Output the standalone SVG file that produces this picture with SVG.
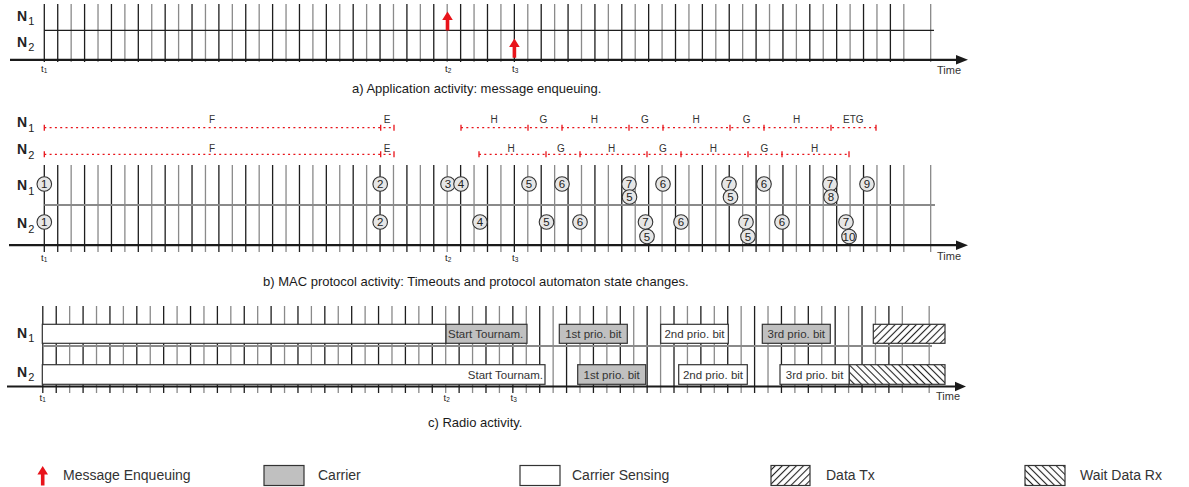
<svg xmlns="http://www.w3.org/2000/svg" width="1189" height="487" viewBox="0 0 1189 487">
<style>
text{font-family:"Liberation Sans",Arial,sans-serif;fill:#222}
.nl{font-weight:bold;font-size:14px}
.ns{font-weight:normal;font-size:11px}
.t{font-size:9.5px}
.ts{font-size:6.5px}
.time{font-size:11px;fill:#333}
.cap{font-size:13px;fill:#1a1a1a}
.st{font-size:10px;fill:#333;text-anchor:middle}
.cn{font-size:11.5px;text-anchor:middle;fill:#222}
.bx{font-size:11.5px;fill:#333}
.lg{font-size:14px;fill:#333}
.gk{fill:none;stroke:#1e1e1e;stroke-width:1.3}
.gg{fill:none;stroke:#8a8a8a;stroke-width:1.3}
.ax{fill:none;stroke:#1a1a1a;stroke-width:2.2}
.dv{fill:none;stroke:#8a8a8a;stroke-width:2}
.rd{fill:none;stroke:#e8141b;stroke-width:1.2;stroke-dasharray:2 3.3}
.rt{fill:none;stroke:#e8141b;stroke-width:1.3}
.cc{fill:#e6e6e6;stroke:#333;stroke-width:1.1}
.bw{fill:#fff;stroke:#333;stroke-width:1.2}
.bg{fill:#c0c0c0;stroke:#333;stroke-width:1.2}
.arr{fill:#e8141b}
</style>
<defs>
<pattern id="hf" width="5" height="5" patternUnits="userSpaceOnUse" patternTransform="rotate(45)"><line x1="2.5" y1="0" x2="2.5" y2="5" stroke="#222" stroke-width="1.1"/></pattern>
<pattern id="hb" width="5" height="5" patternUnits="userSpaceOnUse" patternTransform="rotate(-45)"><line x1="2.5" y1="0" x2="2.5" y2="5" stroke="#222" stroke-width="1.1"/></pattern>
</defs>

<!-- Panel a -->
<g id="panel-a">
<path class="gg" d="M71.16 4v58m26.86-58v58m26.86-58v58m26.86-58v58m26.86-58v58m26.86-58v58m26.86-58v58m26.86-58v58m26.86-58v58m26.86-58v58m26.86-58v58m26.86-58v58m26.86-58v58m26.86-58v58m26.86-58v58m26.86-58v58m26.86-58v58m26.86-58v58m26.86-58v58m26.86-58v58m26.86-58v58m26.86-58v58m26.86-58v58m26.86-58v58m26.86-58v58m26.86-58v58m26.86-58v58m26.86-58v58m26.86-58v58m26.86-58v58m26.86-58v58m26.86-58v58m26.86-58v58"/>
<path class="gk" d="M44.3 4v58M57.73 4v58m26.86-58v58m26.86-58v58m26.86-58v58m26.86-58v58m26.86-58v58m26.86-58v58m26.86-58v58m26.86-58v58m26.86-58v58m26.86-58v58m26.86-58v58m26.86-58v58m26.86-58v58m26.86-58v58m26.86-58v58m26.86-58v58m26.86-58v58m26.86-58v58m26.86-58v58m26.86-58v58m26.86-58v58m26.86-58v58m26.86-58v58m26.86-58v58m26.86-58v58m26.86-58v58m26.86-58v58m26.86-58v58m26.86-58v58m26.86-58v58m26.86-58v58"/>
<line x1="44.3" y1="30.3" x2="934" y2="30.3" stroke="#1e1e1e" stroke-width="1.3"/>
<line class="ax" x1="10" y1="59.8" x2="957" y2="59.8"/>
<polygon points="956,55 968,59.8 956,64.6" fill="#1a1a1a"/>
<text class="nl" x="17" y="21">N<tspan class="ns" dx="1" dy="4">1</tspan></text>
<text class="nl" x="17" y="47">N<tspan class="ns" dx="1" dy="4">2</tspan></text>
<text class="t" x="41" y="72">t<tspan class="ts" dy="0.5">1</tspan></text>
<text class="t" x="445" y="72">t<tspan class="ts" dy="0.5">2</tspan></text>
<text class="t" x="512" y="72">t<tspan class="ts" dy="0.5">3</tspan></text>
<text class="time" x="937" y="74">Time</text>
<polygon class="arr" points="447.5,11.5 452.8,20 449.3,20 449.3,30.5 445.7,30.5 445.7,20 442.2,20"/>
<polygon class="arr" points="514.4,38.5 519.7,47 516.2,47 516.2,57.8 512.6,57.8 512.6,47 509.1,47"/>
<text class="cap" x="352" y="92.5">a) Application activity: message enqueuing.</text>
</g>

<!-- Panel b -->
<g id="panel-b">
<path class="gg" d="M71.16 165v87m26.86-87v87m26.86-87v87m26.86-87v87m26.86-87v87m26.86-87v87m26.86-87v87m26.86-87v87m26.86-87v87m26.86-87v87m26.86-87v87m26.86-87v87m26.86-87v87m26.86-87v87m26.86-87v87m26.86-87v87m26.86-87v87m26.86-87v87m26.86-87v87m26.86-87v87m26.86-87v87m26.86-87v87m26.86-87v87m26.86-87v87m26.86-87v87m26.86-87v87m26.86-87v87m26.86-87v87m26.86-87v87m26.86-87v87m26.86-87v87m26.86-87v87m26.86-87v87"/>
<path class="gk" d="M44.3 165v87M57.73 165v87m26.86-87v87m26.86-87v87m26.86-87v87m26.86-87v87m26.86-87v87m26.86-87v87m26.86-87v87m26.86-87v87m26.86-87v87m26.86-87v87m26.86-87v87m26.86-87v87m26.86-87v87m26.86-87v87m26.86-87v87m26.86-87v87m26.86-87v87m26.86-87v87m26.86-87v87m26.86-87v87m26.86-87v87m26.86-87v87m26.86-87v87m26.86-87v87m26.86-87v87m26.86-87v87m26.86-87v87m26.86-87v87m26.86-87v87m26.86-87v87m26.86-87v87"/>
<line class="dv" x1="44.3" y1="205" x2="935" y2="205"/>
<line class="ax" x1="9" y1="245.2" x2="957" y2="245.2"/>
<polygon points="956,240.4 968,245.2 956,250" fill="#1a1a1a"/>
<text class="nl" x="17" y="127">N<tspan class="ns" dx="1" dy="5">1</tspan></text>
<text class="nl" x="17" y="154">N<tspan class="ns" dx="1" dy="5">2</tspan></text>
<text class="nl" x="17" y="189.5">N<tspan class="ns" dx="1" dy="5">1</tspan></text>
<text class="nl" x="17" y="228">N<tspan class="ns" dx="1" dy="5">2</tspan></text>
<text class="t" x="41" y="261">t<tspan class="ts" dy="0.5">1</tspan></text>
<text class="t" x="445" y="261">t<tspan class="ts" dy="0.5">2</tspan></text>
<text class="t" x="512" y="261">t<tspan class="ts" dy="0.5">3</tspan></text>
<text class="time" x="937" y="260">Time</text>
<text class="cap" x="263" y="285.5">b) MAC protocol activity: Timeouts and protocol automaton state changes.</text>
</g>

<!-- Panel b: state timelines -->
<g id="states">
<path class="rd" d="M44.3 127.7H394M461 127.7H876M44.3 154.3H394M479 154.3H849"/>
<path class="rt" d="M44.3 124.7v6M380.7 124.7v6M394 124.7v6M461 124.7v6M528 124.7v6M562 124.7v6M629 124.7v6M663 124.7v6M730 124.7v6M764 124.7v6M831 124.7v6M876 124.7v6"/>
<path class="rt" d="M44.3 151.3v6M380.7 151.3v6M394 151.3v6M479 151.3v6M546 151.3v6M580 151.3v6M647 151.3v6M681 151.3v6M748 151.3v6M782 151.3v6M849 151.3v6"/>
<text class="st" x="212" y="123.3">F</text>
<text class="st" x="387" y="123.3">E</text>
<text class="st" x="494" y="123.3">H</text>
<text class="st" x="543.3" y="123.3">G</text>
<text class="st" x="594.3" y="123.3">H</text>
<text class="st" x="645" y="123.3">G</text>
<text class="st" x="696" y="123.3">H</text>
<text class="st" x="746.7" y="123.3">G</text>
<text class="st" x="796.7" y="123.3">H</text>
<text class="st" x="853.3" y="123.3">ETG</text>
<text class="st" x="212" y="151.5">F</text>
<text class="st" x="387" y="151.5">E</text>
<text class="st" x="511" y="151.5">H</text>
<text class="st" x="561" y="151.5">G</text>
<text class="st" x="611.7" y="151.5">H</text>
<text class="st" x="663" y="151.5">G</text>
<text class="st" x="713.3" y="151.5">H</text>
<text class="st" x="764.3" y="151.5">G</text>
<text class="st" x="814.7" y="151.5">H</text>
</g>

<!-- Panel b: automaton state circles -->
<g id="circles-n1">
<circle class="cc" cx="44.3" cy="184" r="7.3"/><text class="cn" x="44.3" y="188.2">1</text>
<circle class="cc" cx="380.2" cy="184" r="7.3"/><text class="cn" x="380.2" y="188.2">2</text>
<circle class="cc" cx="448" cy="184" r="7.3"/><text class="cn" x="448" y="188.2">3</text>
<circle class="cc" cx="461" cy="184" r="7.3"/><text class="cn" x="461" y="188.2">4</text>
<circle class="cc" cx="529" cy="184" r="7.3"/><text class="cn" x="529" y="188.2">5</text>
<circle class="cc" cx="562" cy="184" r="7.3"/><text class="cn" x="562" y="188.2">6</text>
<circle class="cc" cx="629" cy="184" r="7.3"/><text class="cn" x="629" y="188.2">7</text>
<circle class="cc" cx="629.5" cy="197" r="7.3"/><text class="cn" x="629.5" y="201.2">5</text>
<circle class="cc" cx="663" cy="184" r="7.3"/><text class="cn" x="663" y="188.2">6</text>
<circle class="cc" cx="729" cy="184" r="7.3"/><text class="cn" x="729" y="188.2">7</text>
<circle class="cc" cx="730.5" cy="197" r="7.3"/><text class="cn" x="730.5" y="201.2">5</text>
<circle class="cc" cx="764" cy="184" r="7.3"/><text class="cn" x="764" y="188.2">6</text>
<circle class="cc" cx="830" cy="184" r="7.3"/><text class="cn" x="830" y="188.2">7</text>
<circle class="cc" cx="831" cy="197" r="7.3"/><text class="cn" x="831" y="201.2">8</text>
<circle class="cc" cx="867" cy="184" r="7.3"/><text class="cn" x="867" y="188.2">9</text>
</g>
<g id="circles-n2">
<circle class="cc" cx="44.3" cy="222" r="7.3"/><text class="cn" x="44.3" y="226.2">1</text>
<circle class="cc" cx="380.2" cy="222" r="7.3"/><text class="cn" x="380.2" y="226.2">2</text>
<circle class="cc" cx="480" cy="222" r="7.3"/><text class="cn" x="480" y="226.2">4</text>
<circle class="cc" cx="546.5" cy="222" r="7.3"/><text class="cn" x="546.5" y="226.2">5</text>
<circle class="cc" cx="580" cy="222" r="7.3"/><text class="cn" x="580" y="226.2">6</text>
<circle class="cc" cx="645.5" cy="222" r="7.3"/><text class="cn" x="645.5" y="226.2">7</text>
<circle class="cc" cx="647" cy="236.5" r="7.3"/><text class="cn" x="647" y="240.7">5</text>
<circle class="cc" cx="681" cy="222" r="7.3"/><text class="cn" x="681" y="226.2">6</text>
<circle class="cc" cx="746" cy="222" r="7.3"/><text class="cn" x="746" y="226.2">7</text>
<circle class="cc" cx="748" cy="236.5" r="7.3"/><text class="cn" x="748" y="240.7">5</text>
<circle class="cc" cx="782" cy="222" r="7.3"/><text class="cn" x="782" y="226.2">6</text>
<circle class="cc" cx="846" cy="222" r="7.3"/><text class="cn" x="846" y="226.2">7</text>
<circle class="cc" cx="849" cy="236.5" r="7.3"/><text class="cn" x="849" y="240.7" font-size="10.5">10</text>
</g>

<!-- Panel c -->
<g id="panel-c">
<path class="gg" d="M69.66 306v87m26.86-87v87m26.86-87v87m26.86-87v87m26.86-87v87m26.86-87v87m26.86-87v87m26.86-87v87m26.86-87v87m26.86-87v87m26.86-87v87m26.86-87v87m26.86-87v87m26.86-87v87m26.86-87v87m26.86-87v87m26.86-87v87m26.86-87v87m26.86-87v87m26.86-87v87m26.86-87v87m26.86-87v87m26.86-87v87m26.86-87v87m26.86-87v87m26.86-87v87m26.86-87v87m26.86-87v87m26.86-87v87m26.86-87v87m26.86-87v87m26.86-87v87m26.86-87v87"/>
<path class="gk" d="M42.8 306v87M56.23 306v87m26.86-87v87m26.86-87v87m26.86-87v87m26.86-87v87m26.86-87v87m26.86-87v87m26.86-87v87m26.86-87v87m26.86-87v87m26.86-87v87m26.86-87v87m26.86-87v87m26.86-87v87m26.86-87v87m26.86-87v87m26.86-87v87m26.86-87v87m26.86-87v87m26.86-87v87m26.86-87v87m26.86-87v87m26.86-87v87m26.86-87v87m26.86-87v87m26.86-87v87m26.86-87v87m26.86-87v87m26.86-87v87m26.86-87v87m26.86-87v87m26.86-87v87"/>
<line class="dv" x1="42.8" y1="346" x2="932" y2="346"/>
<line class="ax" x1="7" y1="386.5" x2="956" y2="386.5"/>
<polygon points="955,381.7 966,386.5 955,391.3" fill="#1a1a1a"/>
<text class="nl" x="17" y="338">N<tspan class="ns" dx="1" dy="4">1</tspan></text>
<text class="nl" x="17" y="377">N<tspan class="ns" dx="1" dy="4">2</tspan></text>
<text class="t" x="39.5" y="401">t<tspan class="ts" dy="0.5">1</tspan></text>
<text class="t" x="443.5" y="401">t<tspan class="ts" dy="0.5">2</tspan></text>
<text class="t" x="510.5" y="401">t<tspan class="ts" dy="0.5">3</tspan></text>
<text class="time" x="936" y="400">Time</text>
<text class="cap" x="428" y="427">c) Radio activity.</text>
</g>

<!-- Panel c: radio activity boxes -->
<g id="radio-n1">
<rect class="bw" x="42.3" y="324.3" width="403.7" height="19"/>
<rect class="bg" x="446" y="324.3" width="81" height="19"/><text class="bx" x="448" y="338.2">Start Tournam.</text>
<rect class="bg" x="559.3" y="324.3" width="68" height="19"/><text class="bx" x="593.3" y="338.2" text-anchor="middle">1st prio. bit</text>
<rect class="bw" x="660.7" y="324.3" width="67.6" height="19"/><text class="bx" x="694.5" y="338.2" text-anchor="middle">2nd prio. bit</text>
<rect class="bg" x="762.3" y="324.3" width="68" height="19"/><text class="bx" x="796.3" y="338.2" text-anchor="middle">3rd prio. bit</text>
<rect x="873.3" y="324.3" width="71.7" height="19" fill="#fff"/><rect x="873.3" y="324.3" width="71.7" height="19" fill="url(#hf)" stroke="#333" stroke-width="1.2"/>
</g>
<g id="radio-n2">
<rect class="bw" x="42.3" y="364.7" width="502.7" height="19.6"/><text class="bx" x="543" y="379" text-anchor="end">Start Tournam.</text>
<rect class="bg" x="577.7" y="364.7" width="68" height="19.6"/><text class="bx" x="611.7" y="379" text-anchor="middle">1st prio. bit</text>
<rect class="bw" x="678.7" y="364.7" width="68.6" height="19.6"/><text class="bx" x="713" y="379" text-anchor="middle">2nd prio. bit</text>
<rect class="bw" x="780" y="364.7" width="69.3" height="19.6"/><text class="bx" x="814.6" y="379" text-anchor="middle">3rd prio. bit</text>
<rect x="849.3" y="364.7" width="95.7" height="19.6" fill="#fff"/><rect x="849.3" y="364.7" width="95.7" height="19.6" fill="url(#hb)" stroke="#333" stroke-width="1.2"/>
</g>

<!-- Legend -->
<g id="legend">
<polygon class="arr" points="42.7,466 48,474.5 44.5,474.5 44.5,485.5 40.9,485.5 40.9,474.5 37.4,474.5"/>
<text class="lg" x="63" y="480">Message Enqueuing</text>
<rect class="bg" x="264" y="465.5" width="40" height="20"/>
<text class="lg" x="318" y="480">Carrier</text>
<rect class="bw" x="520" y="465.5" width="40" height="20"/>
<text class="lg" x="572" y="480">Carrier Sensing</text>
<rect x="771" y="465.5" width="39" height="20" fill="url(#hf)" stroke="#333" stroke-width="1.2"/>
<text class="lg" x="826" y="480">Data Tx</text>
<rect x="1025" y="465.5" width="40" height="20" fill="url(#hb)" stroke="#333" stroke-width="1.2"/>
<text class="lg" x="1080" y="480">Wait Data Rx</text>
</g>
</svg>
